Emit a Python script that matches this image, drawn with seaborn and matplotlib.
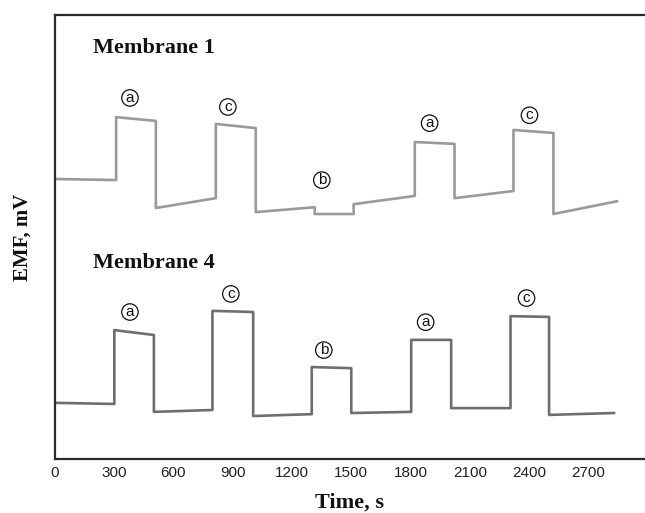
import matplotlib
matplotlib.use("Agg")
import matplotlib.pyplot as plt
import seaborn as sns
import pandas as pd

# Membrane 1 trace: breakpoints (time in s, EMF in arbitrary tick units)
m1_time = [0, 311, 311, 512, 512, 815, 815, 1017, 1017, 1315, 1315, 1512, 1512,
           1821, 1821, 2022, 2022, 2320, 2320, 2522, 2522, 2845]
m1_emf = [7.43, 7.40, 9.07, 8.97, 6.66, 6.92, 8.89, 8.78, 6.55, 6.68, 6.50, 6.50, 6.76,
          6.98, 8.41, 8.36, 6.92, 7.11, 8.73, 8.65, 6.50, 6.84]

# Membrane 4 trace
m4_time = [0, 302, 302, 502, 502, 798, 798, 1004, 1004, 1300, 1300, 1500, 1500,
           1803, 1803, 2005, 2005, 2305, 2305, 2500, 2500, 2830]
m4_emf = [1.49, 1.46, 3.42, 3.29, 1.25, 1.30, 3.93, 3.90, 1.14, 1.19, 2.44, 2.41, 1.22,
          1.25, 3.16, 3.16, 1.35, 1.35, 3.79, 3.77, 1.17, 1.22]

# Circled step labels
m1_lbl = ["a", "c", "b", "a", "c"]
m1_lbl_t = [381, 876, 1351, 1896, 2401]
m1_lbl_v = [9.58, 9.34, 7.40, 8.91, 9.12]
m4_lbl = ["a", "c", "b", "a", "c"]
m4_lbl_t = [381, 891, 1361, 1876, 2386]
m4_lbl_v = [3.90, 4.38, 2.89, 3.63, 4.27]

x_ticks = [0, 300, 600, 900, 1200, 1500, 1800, 2100, 2400, 2700]
y_ticks = [1, 2, 3, 4, 5, 6, 7, 8, 9, 10, 11]

sns.set_style("white")
plt.rcParams["font.family"] = ["Liberation Sans", "DejaVu Sans"]

fig = plt.figure(figsize=(6.45, 5.13), dpi=100)
ax = fig.add_axes([54.6 / 645, 54 / 513, 1 - 54.6 / 645, (459 - 15) / 513])

df1 = pd.DataFrame({"t": m1_time, "v": m1_emf})
df4 = pd.DataFrame({"t": m4_time, "v": m4_emf})
sns.lineplot(data=df1, x="t", y="v", sort=False, estimator=None, color="#9a9a9a",
             linewidth=1.9, ax=ax)
sns.lineplot(data=df4, x="t", y="v", sort=False, estimator=None, color="#6e6e6e",
             linewidth=1.9, ax=ax)

for lbls, ts, vs in [(m1_lbl, m1_lbl_t, m1_lbl_v), (m4_lbl, m4_lbl_t, m4_lbl_v)]:
    for s, t, v in zip(lbls, ts, vs):
        ax.text(t, v, s, ha="center", va="center", fontsize=11, color="#111111",
                bbox=dict(boxstyle="circle,pad=0.08", fc="none", ec="#111111", lw=0.9))

serif = ["Liberation Serif", "DejaVu Serif"]
ax.text(195, 10.9, "Membrane 1", family=serif, fontweight="bold", fontsize=16,
        ha="left", va="center", color="#111111")
ax.text(195, 5.2, "Membrane 4", family=serif, fontweight="bold", fontsize=16,
        ha="left", va="center", color="#111111")

ax.set_xlim(0, 2985)
ax.set_ylim(0, 11.78)
ax.set_xticks(x_ticks)
ax.set_xticklabels([str(t) for t in x_ticks], fontsize=11, color="#222222")
ax.set_yticks(y_ticks)
ax.set_yticklabels([])
ax.tick_params(axis="both", direction="in", length=3, width=0.6, color="#999999")
ax.tick_params(axis="x", pad=5)

ax.set_xlabel("Time, s", family=serif, fontweight="bold", fontsize=16,
              color="#111111", labelpad=9)
ax.set_ylabel("EMF, mV", family=serif, fontweight="bold", fontsize=15,
              color="#111111", labelpad=12)

for side in ["left", "bottom", "top"]:
    ax.spines[side].set_color("#2a2a2a")
    ax.spines[side].set_linewidth(1.6)
ax.spines["right"].set_visible(False)

fig.savefig("out.png", dpi=100, facecolor="white")
